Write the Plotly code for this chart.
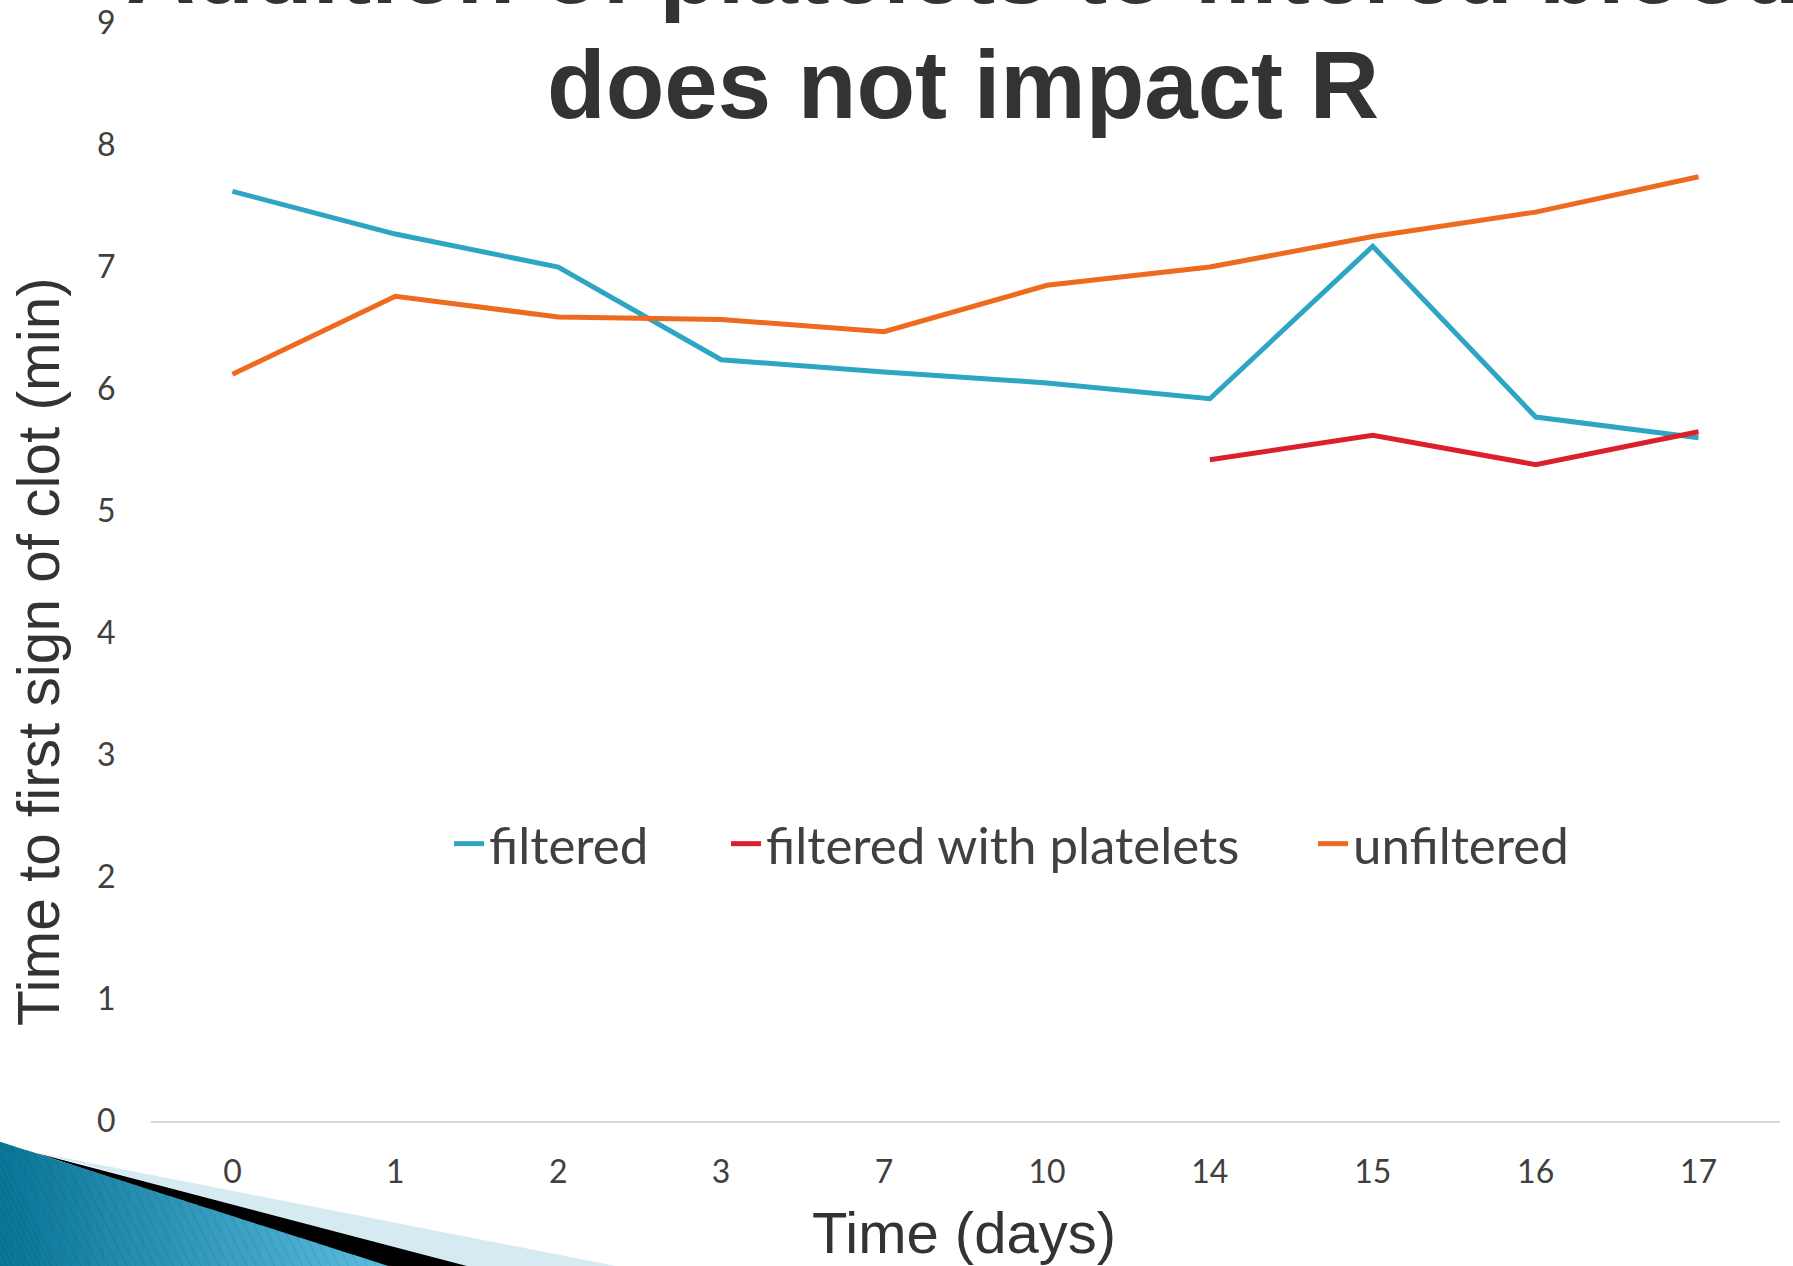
import plotly.graph_objects as go

# ---- data ----
days = ["0", "1", "2", "3", "7", "10", "14", "15", "16", "17"]
filtered = [7.62, 7.27, 7.00, 6.24, 6.14, 6.05, 5.92, 7.17, 5.77, 5.60]
filtered_platelets = [None, None, None, None, None, None, 5.42, 5.62, 5.38, 5.65]
unfiltered = [6.12, 6.76, 6.59, 6.57, 6.47, 6.85, 7.00, 7.25, 7.45, 7.74]
y_ticks = [0, 1, 2, 3, 4, 5, 6, 7, 8, 9]

series_names = ["filtered", "filtered with platelets", "unfiltered"]
series_colors = ["#2ea5c3", "#dc1f2c", "#ed6a1e"]

title_line1 = "Addition of platelets to filtered blood"
title_line2 = "does not impact R"
x_title = "Time (days)"
y_title = "Time to first sign of clot (min)"

# ---- layout geometry (pixels) ----
W_FIG, H_FIG = 1793, 1266
PL, PR, PT, PB = 151, 1780, 23, 1121
PW, PH = PR - PL, PB - PT


def px(x, y):
    return ((x - PL) / PW, (PB - y) / PH)


legend_ids = ["legend", "legend2", "legend3"]
legend_left_px = [449, 726, 1313]

fig = go.Figure()
for name, vals, col, lid in zip(series_names, [filtered, filtered_platelets, unfiltered],
                                series_colors, legend_ids):
    fig.add_trace(go.Scatter(x=days, y=vals, name=name, mode="lines", legend=lid,
                             line=dict(color=col, width=5), connectgaps=False))

tick_font = dict(family="Lato", size=32, color="#404040")

layout_legends = {}
for lid, lx in zip(legend_ids, legend_left_px):
    xx, yy = px(lx, 844)
    layout_legends[lid] = dict(orientation="h", x=xx, xanchor="left", y=yy, yanchor="middle",
                               font=dict(family="Lato", size=51, color="#404040"),
                               bgcolor="rgba(0,0,0,0)", borderwidth=0)

fig.update_layout(
    width=W_FIG, height=H_FIG, autosize=False,
    margin=dict(l=PL, r=W_FIG - PR, t=PT, b=H_FIG - PB, pad=0, autoexpand=False),
    paper_bgcolor="white", plot_bgcolor="white",
    showlegend=True,
    xaxis=dict(type="category", categoryorder="array", categoryarray=days,
               range=[-0.5, len(days) - 0.5], automargin=False,
               showgrid=False, zeroline=False, showline=True, linecolor="#d9d9d9", linewidth=2,
               ticks="outside", ticklen=22, tickcolor="rgba(0,0,0,0)",
               tickfont=tick_font),
    yaxis=dict(range=[0, 9], tickvals=y_ticks, ticktext=[str(t) for t in y_ticks],
               automargin=False,
               showgrid=False, zeroline=False, showline=False,
               ticks="outside", ticklen=28, tickcolor="rgba(0,0,0,0)",
               tickfont=tick_font),
    **layout_legends,
)

# ---- titles ----
ann = []
t1x, t1y = px(963, -30)
t2x, t2y = px(963, 84)
ann.append(dict(text="<b>" + title_line1 + "</b>", x=t1x, y=t1y, xref="paper", yref="paper",
                xanchor="center", yanchor="middle", showarrow=False,
                font=dict(family="Liberation Sans", size=96, color="#333333")))
ann.append(dict(text="<b>" + title_line2 + "</b>", x=t2x, y=t2y, xref="paper", yref="paper",
                xanchor="center", yanchor="middle", showarrow=False,
                font=dict(family="Liberation Sans", size=96, color="#333333")))
xtx, xty = px(964, 1232)
ann.append(dict(text=x_title, x=xtx, y=xty, xref="paper", yref="paper",
                xanchor="center", yanchor="middle", showarrow=False,
                font=dict(family="Liberation Sans", size=58, color="#333333")))
ytx, yty = px(38, 652)
ann.append(dict(text=y_title, x=ytx, y=yty, xref="paper", yref="paper", textangle=-90,
                xanchor="center", yanchor="middle", showarrow=False,
                font=dict(family="Liberation Sans", size=58.5, color="#333333")))
fig.update_layout(annotations=ann)

# ---- decorative corner (slide template) ----
def poly(points):
    pts = [px(x, y) for x, y in points]
    return "M " + " L ".join(f"{a:.5f},{b:.5f}" for a, b in pts) + " Z"

shapes = []
shapes.append(dict(type="path", xref="paper", yref="paper", path=poly([(40, 1153), (636, 1270), (475, 1270)]),
                   fillcolor="#d6eaf2", line=dict(width=0), layer="above"))
shapes.append(dict(type="path", xref="paper", yref="paper", path=poly([(36, 1153), (482, 1270), (390, 1270)]),
                   fillcolor="#000000", line=dict(width=0), layer="above"))


def top(x):
    return 1141.7 + 0.32 * x

c0 = (11, 118, 152)
c1 = (92, 188, 222)
n = 30
xend = 392
for i in range(n):
    xa = xend * i / n
    xb = xend * (i + 1) / n + 1
    t = i / (n - 1)
    col = tuple(int(c0[k] + (c1[k] - c0[k]) * t) for k in range(3))
    shapes.append(dict(type="path", xref="paper", yref="paper",
                       path=poly([(xa, top(xa)), (xb, top(xb)), (xb, 1270), (xa, 1270)]),
                       fillcolor="rgb(%d,%d,%d)" % col, line=dict(width=0), layer="above"))

# faint diagonal stripes clipped to the blue triangle
stripe_starts = []
for k in range(1, 40):
    stripe_starts.append((k * 11.0, None))
for k in range(1, 12):
    stripe_starts.append((0.0, 1141.7 + k * 11.0))
for sx, sy in stripe_starts:
    if sy is None:
        x0, y0 = sx, top(sx)
    else:
        x0, y0 = 0.0, sy
    if x0 > 388 or y0 > 1266:
        continue
    x1 = x0 + 0.5 * (1266 - y0)
    y1 = 1266
    a = px(x0, y0)
    b = px(x1, y1)
    shapes.append(dict(type="line", xref="paper", yref="paper",
                       x0=a[0], y0=a[1], x1=b[0], y1=b[1],
                       line=dict(color="rgba(0,40,60,0.12)", width=1), layer="above"))
fig.update_layout(shapes=shapes)

fig.write_html("out.html")
